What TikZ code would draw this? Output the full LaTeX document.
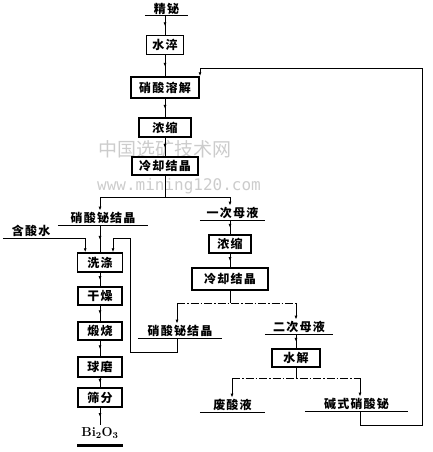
\documentclass[tikz,border=0pt]{standalone}
\usepackage{fontspec}
\usetikzlibrary{arrows.meta,decorations.markings}
\newfontfamily\cjk[LetterSpace=10]{Noto Sans CJK SC}
\newfontfamily\cjkwm{Noto Sans CJK SC}
\newfontfamily\wmmono{DejaVu Sans Mono}
\begin{document}
\begin{tikzpicture}[x=1pt,y=-1pt,
  box/.style={draw, line width=1.5pt, fill=white, inner sep=0pt, minimum height=19pt,
    font=\cjk\bfseries\fontsize{12}{14}\selectfont},
  lbl/.style={inner sep=0pt, minimum height=14pt, anchor=south,
    font=\cjk\bfseries\fontsize{12}{14}\selectfont},
  ulstyle/.style={line width=1pt},
  flow/.style={line width=0.8pt, postaction={decorate},
    decoration={markings, mark=at position 0.55 with {\arrow{Latex[length=4pt,width=3pt]}}}},
  feed/.style={line width=0.8pt, -{Latex[length=4pt,width=3pt]}},
  plain/.style={line width=0.8pt},
  splitline/.style={line width=0.8pt, dash pattern=on 8pt off 2pt on 1.5pt off 2pt}]
\useasboundingbox (0,0) rectangle (432,452);

% watermark
\node[text=gray!40, font=\cjkwm\fontsize{19}{21}\selectfont] (wm1) at (165,149) {中国选矿技术网};
\node[text=gray!40, font=\wmmono\fontsize{16}{18}\selectfont] (wm2) at (179,186) {www.mining120.com};

% main column
\node[lbl, minimum width=43pt] (jingbi) at (166.5,16) {精铋};
\node[box, minimum width=37pt] (shuicui) at (165,45) {水淬};
\node[box, minimum width=68pt, minimum height=21pt] (rongjie) at (165,87.5) {硝酸溶解};
\node[box, minimum width=52pt] (nongsuo1) at (165,127.5) {浓缩};
\node[box, minimum width=66pt, minimum height=18pt] (lengque1) at (165,166) {冷却结晶};

\coordinate (s1) at (165,197);
\coordinate (s1l) at (100,197);
\coordinate (s1r) at (230,197);

% left column
\node[lbl, minimum width=90pt] (xjj1) at (103,225) {硝酸铋结晶};
\node[lbl, inner xsep=9pt, text width=64pt, align=left] (hanshui) at (44,238) {含酸水};
\node[box, minimum width=45pt] (xidi) at (100,262.5) {洗涤};
\node[box, minimum width=44pt, minimum height=18pt] (ganzao) at (100,296) {干燥};
\node[box, minimum width=44pt, minimum height=18pt] (duanshao) at (100,331) {煅烧};
\node[box, minimum width=44pt, minimum height=20pt] (qiumo) at (100,367) {球磨};
\node[box, minimum width=44pt] (shaifen) at (100,397.5) {筛分};
\node[inner sep=0pt, minimum width=45pt, minimum height=17pt, anchor=south,
  font=\rmfamily\bfseries\fontsize{13}{15}\selectfont] (bio) at (100,442) {Bi\textsubscript{2}O\textsubscript{3}};

% right column
\node[lbl, minimum width=65pt] (ycmy) at (232.5,220) {一次母液};
\node[box, minimum width=42pt, minimum height=18pt] (nongsuo2) at (230,244) {浓缩};
\node[box, minimum width=76pt, minimum height=22pt] (lengque2) at (230,279) {冷却结晶};
\coordinate (s2l) at (177,303);
\coordinate (s2r) at (296,303);
\node[lbl, minimum width=84pt] (xjj2) at (180,338) {硝酸铋结晶};
\node[lbl, minimum width=68pt] (ecmy) at (299,334) {二次母液};
\node[box, minimum width=48pt, minimum height=18pt] (shuijie) at (296,358) {水解};
\coordinate (s3l) at (232,378);
\coordinate (s3r) at (360,378);
\node[lbl, minimum width=65pt] (fsy) at (232.5,412) {废酸液};
\node[lbl, minimum width=103pt] (jsxs) at (356.5,411) {碱式硝酸铋};

% loop corners
\coordinate (rb) at (422,425);
\coordinate (rt) at (422,68);
\coordinate (rin) at (200,68);
\coordinate (lb) at (130,352);
\coordinate (lt) at (130,238);
\coordinate (lin) at (113,238);

% underlines
\foreach \n in {jingbi,xjj1,hanshui,ycmy,xjj2,ecmy,fsy,jsxs}
  \draw[ulstyle] (\n.south west) -- (\n.south east);
\draw[line width=3pt] ([yshift=-3pt]bio.south west) -- ([yshift=-3pt]bio.south east);

% connectors main
\draw[flow] (shuicui.north |- jingbi.south) -- (shuicui.north);
\draw[flow] (shuicui) -- (rongjie);
\draw[flow] (rongjie) -- (nongsuo1);
\draw[flow] (nongsuo1) -- (lengque1);
\draw[plain] (lengque1.south) -- (s1);
\draw[plain] (s1l) -- (s1r);
\draw[feed] (s1l) -- (s1l |- xjj1.north);
\draw[feed] (s1r) -- (s1r |- ycmy.north);

% left
\draw[flow] (s1l |- xjj1.south) -- (xidi.north);
\draw[feed] (hanshui.south east) -- (xidi.north -| hanshui.south east);
\draw[flow] (xidi) -- (ganzao);
\draw[flow] (ganzao) -- (duanshao);
\draw[flow] (duanshao) -- (qiumo);
\draw[flow] (qiumo) -- (shaifen);
\draw[flow] (shaifen.south) -- (bio.north);

% right
\draw[flow] (s1r |- ycmy.south) -- (nongsuo2.north);
\draw[flow] (nongsuo2) -- (lengque2);
\draw[plain] (lengque2.south) -- (lengque2.south |- s2l);
\draw[splitline] (s2l) -- (s2r);
\draw[feed] (s2l) -- (s2l |- xjj2.north);
\draw[feed] (s2r) -- (s2r |- ecmy.north);
\draw[flow] (s2r |- ecmy.south) -- (shuijie.north);
\draw[plain] (shuijie.south) -- (shuijie.south |- s3l);
\draw[splitline] (s3l) -- (s3r);
\draw[feed] (s3l) -- (s3l |- fsy.north);
\draw[feed] (s3r) -- (s3r |- jsxs.north);

% loops
\draw[feed] (s3r |- jsxs.south) |- (rb) -- (rt) -| (rongjie.north -| rin);
\draw[feed] (s2l |- xjj2.south) |- (lb) -- (lt) -| (xidi.north -| lin);
\end{tikzpicture}
\end{document}
